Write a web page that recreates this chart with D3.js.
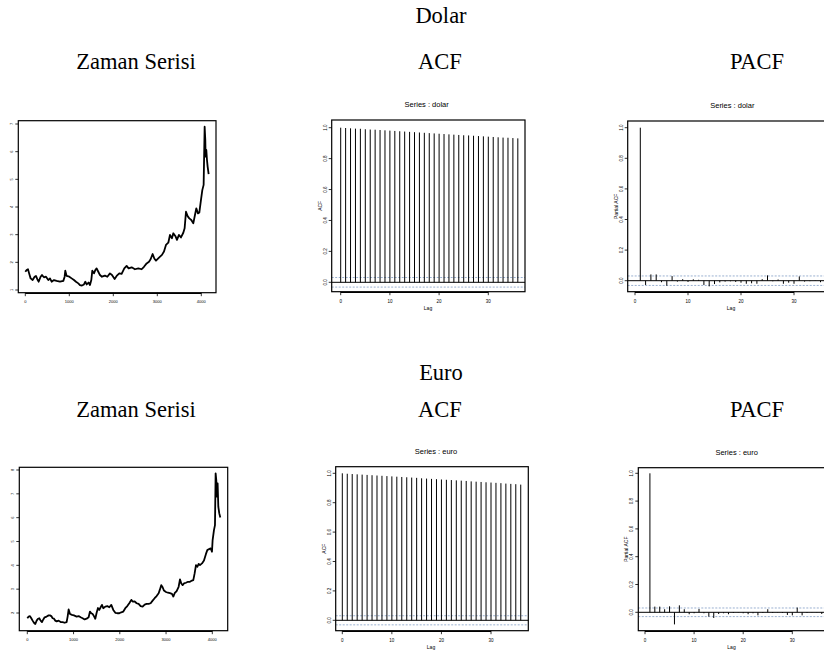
<!DOCTYPE html>
<html><head><meta charset="utf-8">
<script src="https://cdn.jsdelivr.net/npm/d3@7"></script>
<style>body{margin:0;background:#fff}svg{display:block}</style>
</head><body>
<svg id="c" width="824" height="652"></svg>
<script>
// ---------- data ----------
const headings = ["Dolar", "Euro"];
const colTitles = ["Zaman Serisi", "ACF", "PACF"];
const seriesNames = ["dolar", "euro"];

const dolarIdx = [0,30,61,91,121,167,212,242,273,303,348,379,424,470,523,561,598,652,712,788,864,894,909,939,1000,1053,1106,1152,1205,1242,1288,1333,1364,1394,1439,1470,1500,1523,1561,1591,1621,1659,1697,1742,1811,1864,1924,1970,2030,2076,2136,2189,2250,2303,2348,2417,2492,2568,2644,2697,2758,2811,2848,2894,2932,2970,3045,3106,3152,3197,3250,3288,3333,3364,3417,3447,3492,3538,3591,3621,3652,3689,3727,3773,3818,3856,3886,3924,3955,3992,4023,4053,4076,4091,4098,4114,4129,4144,4167];
const dolarVal = [1.66,1.72,1.75,1.58,1.42,1.36,1.48,1.51,1.39,1.30,1.48,1.54,1.46,1.48,1.36,1.42,1.30,1.36,1.33,1.30,1.33,1.48,1.70,1.51,1.48,1.42,1.36,1.30,1.24,1.18,1.16,1.20,1.30,1.20,1.27,1.18,1.36,1.70,1.60,1.72,1.78,1.66,1.54,1.48,1.52,1.48,1.60,1.54,1.40,1.51,1.60,1.58,1.78,1.87,1.78,1.82,1.75,1.78,1.75,1.84,1.96,2.02,2.11,2.30,2.14,2.06,2.18,2.27,2.39,2.63,2.71,2.99,2.87,3.05,2.93,2.81,2.99,2.90,3.07,3.23,3.83,3.67,3.59,3.53,3.41,3.71,3.95,3.77,3.80,4.25,4.61,4.80,6.90,6.42,5.82,6.06,5.70,5.46,5.19];

const euroIdx = [0,29,58,86,115,144,173,202,231,259,288,317,346,375,418,461,490,519,548,577,605,634,677,721,764,807,850,872,894,923,966,1009,1067,1110,1153,1196,1240,1283,1326,1355,1384,1413,1441,1470,1499,1528,1557,1586,1614,1643,1686,1730,1773,1816,1859,1903,1946,1989,2032,2076,2119,2162,2205,2249,2277,2321,2364,2407,2450,2494,2537,2580,2623,2667,2710,2753,2796,2840,2868,2897,2926,2955,2998,3041,3085,3128,3157,3186,3229,3272,3301,3330,3359,3387,3431,3474,3517,3560,3589,3618,3647,3676,3705,3733,3777,3820,3863,3892,3921,3964,3993,4007,4036,4058,4072,4086,4101,4115,4130,4151,4173];
const euroVal = [1.78,1.85,1.87,1.78,1.68,1.59,1.54,1.68,1.76,1.78,1.68,1.62,1.73,1.82,1.85,1.90,1.90,1.87,1.78,1.76,1.68,1.65,1.68,1.62,1.62,1.59,1.62,1.85,2.15,1.96,1.92,1.90,1.85,1.87,1.82,1.78,1.73,1.76,1.82,2.06,1.99,1.96,1.87,1.76,2.01,2.21,2.13,2.24,2.34,2.20,2.27,2.29,2.24,2.34,2.13,2.01,1.99,1.99,2.03,2.06,2.20,2.29,2.41,2.55,2.48,2.49,2.41,2.38,2.29,2.27,2.35,2.38,2.38,2.41,2.52,2.62,2.71,2.83,2.99,3.17,3.08,2.94,2.88,2.85,2.83,2.80,2.69,2.83,2.92,3.10,3.41,3.24,3.17,3.24,3.27,3.31,3.31,3.36,3.38,3.66,4.01,3.94,4.06,4.01,4.08,4.20,4.48,4.64,4.67,4.71,4.57,5.06,5.48,5.69,7.86,7.58,6.88,7.44,6.46,6.18,6.01];

const acfLags = [0,1,2,3,4,5,6,7,8,9,10,11,12,13,14,15,16,17,18,19,20,21,22,23,24,25,26,27,28,29,30,31,32,33,34,35,36];
const pacfLags = [1,2,3,4,5,6,7,8,9,10,11,12,13,14,15,16,17,18,19,20,21,22,23,24,25,26,27,28,29,30,31,32,33,34,35,36];

const acfDolar = [1.000,0.998,0.996,0.994,0.993,0.990,0.988,0.987,0.985,0.983,0.981,0.979,0.977,0.975,0.973,0.971,0.969,0.967,0.965,0.963,0.961,0.959,0.957,0.955,0.953,0.951,0.950,0.948,0.946,0.944,0.942,0.940,0.938,0.936,0.935,0.933,0.931];
const pacfDolar = [1.000,-0.028,0.041,0.041,-0.010,-0.033,0.030,-0.006,0.010,-0.008,0.009,0.006,-0.028,-0.037,-0.022,-0.011,-0.006,-0.004,-0.008,-0.013,-0.020,-0.017,-0.020,0.010,0.035,-0.004,0.008,-0.020,-0.013,-0.020,0.028,-0.006,-0.003,-0.002,-0.010,-0.005];
const acfEuro = [1.000,0.997,0.995,0.993,0.991,0.989,0.987,0.985,0.983,0.981,0.979,0.977,0.975,0.973,0.971,0.969,0.966,0.964,0.962,0.960,0.958,0.956,0.954,0.952,0.950,0.948,0.945,0.943,0.941,0.939,0.937,0.935,0.933,0.930,0.928,0.926,0.923];
const pacfEuro = [1.000,0.041,0.041,0.022,0.043,-0.087,0.050,0.022,-0.014,-0.007,0.024,-0.007,-0.031,-0.041,-0.012,-0.007,-0.014,-0.005,-0.002,-0.007,-0.014,-0.007,-0.022,-0.005,0.022,-0.005,-0.002,-0.005,-0.019,-0.022,0.034,-0.022,-0.005,-0.002,0.002,-0.012];
const confBand = 0.031;

const tsTicks = [0,1000,2000,3000,4000];
const dolarYTicks = [1,2,3,4,5,6,7];
const euroYTicks = [2,3,4,5,6,7,8];
const acfYTicks = [0,0.2,0.4,0.6,0.8,1.0];
const lagTicks = [0,10,20,30];

// ---------- drawing ----------
const svg = d3.select("#c");
svg.append("rect").attr("width",824).attr("height",652).attr("fill","#fff");
const serif = "'Liberation Serif','Times New Roman',serif";
const sans = "'Liberation Sans',Arial,sans-serif";

function bigText(x,y,t){
  svg.append("text").attr("x",x).attr("y",y).attr("text-anchor","middle")
    .attr("font-family",serif).attr("font-size",22.5).attr("fill","#000").text(t);
}
bigText(441,23,headings[0]);
bigText(136,69,colTitles[0]); bigText(440,69,colTitles[1]); bigText(757,69,colTitles[2]);
bigText(441,380,headings[1]);
bigText(136,417,colTitles[0]); bigText(440,417,colTitles[1]); bigText(757,417,colTitles[2]);

function frame(g,L,T,R,B){
  g.append("rect").attr("x",L).attr("y",T).attr("width",R-L).attr("height",B-T)
   .attr("fill","none").attr("stroke","#000").attr("stroke-width",1.2);
}
function yAxis(g,y,ticks,L,fmt,fs){
  ticks.forEach(t=>{
    const yy=y(t);
    g.append("line").attr("x1",L-3).attr("x2",L).attr("y1",yy).attr("y2",yy).attr("stroke","#000").attr("stroke-width",0.8);
    g.append("text").attr("transform",`translate(${L-5},${yy}) rotate(-90)`).attr("text-anchor","middle")
     .attr("font-family",sans).attr("font-size",fs).attr("fill","#000").text(fmt(t));
  });
}
function xAxis(g,x,ticks,B,fmt,fs,ly){
  g.append("line").attr("x1",x(ticks[0])).attr("x2",x(ticks[ticks.length-1])).attr("y1",B+0.8).attr("y2",B+0.8).attr("stroke","#000").attr("stroke-width",1.2);
  ticks.forEach(t=>{
    const xx=x(t);
    g.append("line").attr("x1",xx).attr("x2",xx).attr("y1",B).attr("y2",B+3.5).attr("stroke","#000").attr("stroke-width",0.8);
    g.append("text").attr("x",xx).attr("y",ly).attr("text-anchor","middle")
     .attr("font-family",sans).attr("font-size",fs).attr("fill","#000").text(fmt(t));
  });
}

function tsPanel(idx,val,yt,p){
  const g=svg.append("g");
  const x=d3.scaleLinear().domain([0,4000]).range([p.x0,p.x4]);
  const y=d3.scaleLinear().domain([yt[0],yt[yt.length-1]]).range([p.yb,p.yt]);
  const line=d3.line().x((d,i)=>x(idx[i])).y((d,i)=>y(val[i]));
  g.append("path").datum(val).attr("d",line).attr("fill","none").attr("stroke","#000").attr("stroke-width",1.8).attr("stroke-linejoin","round");
  frame(g,p.L,p.T,p.R,p.B);
  yAxis(g,y,yt,p.L,d=>String(d),4);
  xAxis(g,x,tsTicks,p.B,d=>String(d),4,p.B+10);
}
tsPanel(dolarIdx,dolarVal,dolarYTicks,{x0:25.3,x4:201.3,yb:290,yt:124,L:18.3,T:120.7,R:216,B:292.7});
tsPanel(euroIdx,euroVal,euroYTicks,{x0:27.3,x4:212.3,yb:613,yt:470,L:19.3,T:467.3,R:227.7,B:630.7});

function corrPanel(lags,vals,name,ylab,p){
  const g=svg.append("g");
  const x=d3.scaleLinear().domain([0,30]).range([p.x0,p.x30]);
  const y=d3.scaleLinear().domain([0,1]).range([p.y0,p.y1]);
  g.append("text").attr("x",p.tx).attr("y",p.T-13).attr("text-anchor","middle")
   .attr("font-family",sans).attr("font-size",7.5).attr("fill","#000").text("Series : "+name);
  [confBand,-confBand].forEach(c=>{
    g.append("line").attr("x1",p.L).attr("x2",p.R).attr("y1",y(c)).attr("y2",y(c))
     .attr("stroke","#8fa8cc").attr("stroke-width",0.9).attr("stroke-dasharray","2,1.5");
  });
  g.append("line").attr("x1",p.L).attr("x2",p.R).attr("y1",y(0)).attr("y2",y(0)).attr("stroke","#000").attr("stroke-width",1);
  g.selectAll("line.spike").data(vals).enter().append("line").attr("class","spike")
   .attr("x1",(d,i)=>x(lags[i])).attr("x2",(d,i)=>x(lags[i]))
   .attr("y1",y(0)).attr("y2",d=>y(d)).attr("stroke","#000").attr("stroke-width",1);
  frame(g,p.L,p.T,p.R,p.B);
  yAxis(g,y,acfYTicks,p.L,d=>d.toFixed(1),4.5);
  xAxis(g,x,lagTicks,p.B,d=>String(d),4.5,p.B+11);
  g.append("text").attr("x",p.lx).attr("y",p.B+18).attr("text-anchor","middle")
   .attr("font-family",sans).attr("font-size",5).attr("fill","#000").text("Lag");
  g.append("text").attr("transform",`translate(${p.L-10},${(p.T+p.B)/2}) rotate(-90)`).attr("text-anchor","middle")
   .attr("font-family",sans).attr("font-size",5).attr("fill","#000").text(ylab);
}
corrPanel(acfLags,acfDolar,seriesNames[0],"ACF",{x0:340.7,x30:488.3,y0:282.3,y1:127.7,L:331.7,T:120,R:525,B:291.7,tx:426.7,lx:428});
corrPanel(pacfLags,pacfDolar,seriesNames[0],"Partial ACF",{x0:635,x30:794,y0:280.7,y1:127.7,L:627.7,T:121,R:840,B:291.7,tx:732.3,lx:731});
corrPanel(acfLags,acfEuro,seriesNames[1],"ACF",{x0:342.3,x30:491,y0:620.3,y1:473.3,L:335.7,T:466.7,R:528.3,B:630.7,tx:436,lx:431});
corrPanel(pacfLags,pacfEuro,seriesNames[1],"Partial ACF",{x0:645,x30:792.3,y0:612.3,y1:473.3,L:638.3,T:467.7,R:850,B:630.7,tx:736.7,lx:731.5});
</script>
</body></html>
